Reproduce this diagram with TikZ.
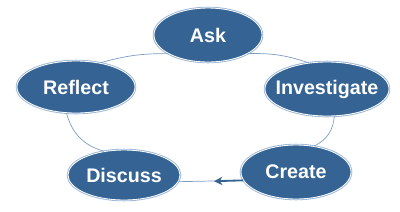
\documentclass[tikz,border=0pt]{standalone}
\usepackage{fontspec}
\setmainfont{Liberation Sans}
\usetikzlibrary{shapes.geometric,arrows.meta}
\definecolor{bubfill}{RGB}{52,99,148}
\definecolor{bubedge}{RGB}{150,180,212}
\definecolor{linkc}{RGB}{125,158,196}
\newcommand{\lbl}[1]{\makebox[0pt]{#1}}
\tikzset{
  bub/.style={ellipse, fill=bubfill, draw=white, line width=0.6pt,
    preaction={draw=bubedge, line width=1.8pt},
    inner sep=0pt, text=white, font=\fontsize{14}{16}\selectfont\bfseries},
  link/.style={draw=linkc, line width=0.5pt},
  darrow/.style={draw=bubfill, line width=1.3pt, -{Stealth[length=6pt,width=6pt]}}
}
\begin{document}
\begin{tikzpicture}
\useasboundingbox (0,0) rectangle (10,-5.275);
\node[bub, minimum width=2.7cm, minimum height=1.35cm] (ask) at (5.2,-0.875) {\lbl{Ask}};
\node[bub, minimum width=2.95cm, minimum height=1.3cm] (reflect) at (1.9,-2.175) {\lbl{Reflect}};
\node[bub, minimum width=3.1cm, minimum height=1.35cm] (investigate) at (8.175,-2.225) {\lbl{Investigate}};
\node[bub, minimum width=2.8cm, minimum height=1.25cm] (discuss) at (3.1,-4.375) {\lbl{Discuss}};
\node[bub, minimum width=2.75cm, minimum height=1.35cm] (create) at (7.4,-4.3) {\lbl{Create}};
\coordinate (tip) at (5.35,-4.53);
\begin{scope}[on background layer/.style={}]
\draw[link] (ask.-25) to[bend left=10] (investigate.125);
\draw[link] (ask.205) to[bend right=8] (reflect.45);
\draw[link] (investigate.-75) to[bend left=30] (create.55);
\draw[link] (reflect.250) to[bend right=30] (discuss.130);
\draw[link] (create.189) -- (discuss.-7);
\draw[darrow] (create.189) -- (tip);
\end{scope}
\end{tikzpicture}
\end{document}
